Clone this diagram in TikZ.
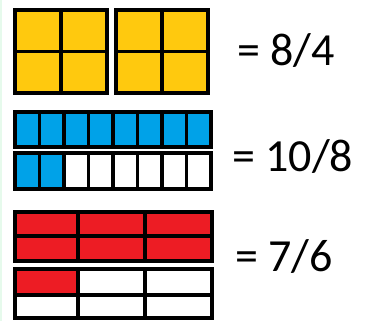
\documentclass[tikz,border=0pt]{standalone}
\usepackage{fontspec}
\setmainfont{Carlito}
\definecolor{tileyellow}{HTML}{FFC90E}
\definecolor{tileblue}{HTML}{00A2E8}
\definecolor{tilered}{HTML}{ED1C24}
\definecolor{edgemint}{HTML}{E6FAEC}

\begin{document}
\begin{tikzpicture}[
  x=1pt,y=-1pt,
  cell/.style={draw=black,line width=3.2pt},
  sum/.style={anchor=base west,inner sep=0pt,font=\fontsize{46}{46}\selectfont}
]
  \useasboundingbox (0,0) rectangle (373,321);
  \draw[edgemint,line width=1.6pt] (0.8,0) -- (0.8,321);

  % two wholes cut in quarters
  \foreach \x in {15,116}{
    \draw[cell,fill=tileyellow] (\x,10) rectangle ++(92,83);
    \draw[cell] (\x+46,10) -- ++(0,83);
    \draw[cell] (\x,51.5) -- ++(92,0);
  }
  \node[sum] (eightfourths) at (237,66) {= 8/4};

  % eighths
  \foreach \i in {0,...,7}
    \draw[cell,fill=tileblue] ({15+24.5*\i},112) rectangle ++(24.5,35);
  \foreach \i in {0,1}
    \draw[cell,fill=tileblue] ({15+24.5*\i},153) rectangle ++(24.5,36);
  \foreach \i in {2,...,7}
    \draw[cell,fill=white] ({15+24.5*\i},153) rectangle ++(24.5,36);
  \node[sum] (teneighths) at (232,172) {= 10/8};

  % sixths
  \fill[tilered] (15,212) rectangle (212,261);
  \fill[tilered] (15,269) rectangle (78,295);
  \draw[cell] (15,212) rectangle (212,261);
  \draw[cell] (15,236) -- (212,236) (78,212) -- (78,261) (145,212) -- (145,261);
  \draw[cell] (15,269) rectangle (212,318);
  \draw[cell] (15,295) -- (212,295) (78,269) -- (78,318) (145,269) -- (145,318);
  \node[sum] (sevensixths) at (235,272) {= 7/6};
\end{tikzpicture}
\end{document}
